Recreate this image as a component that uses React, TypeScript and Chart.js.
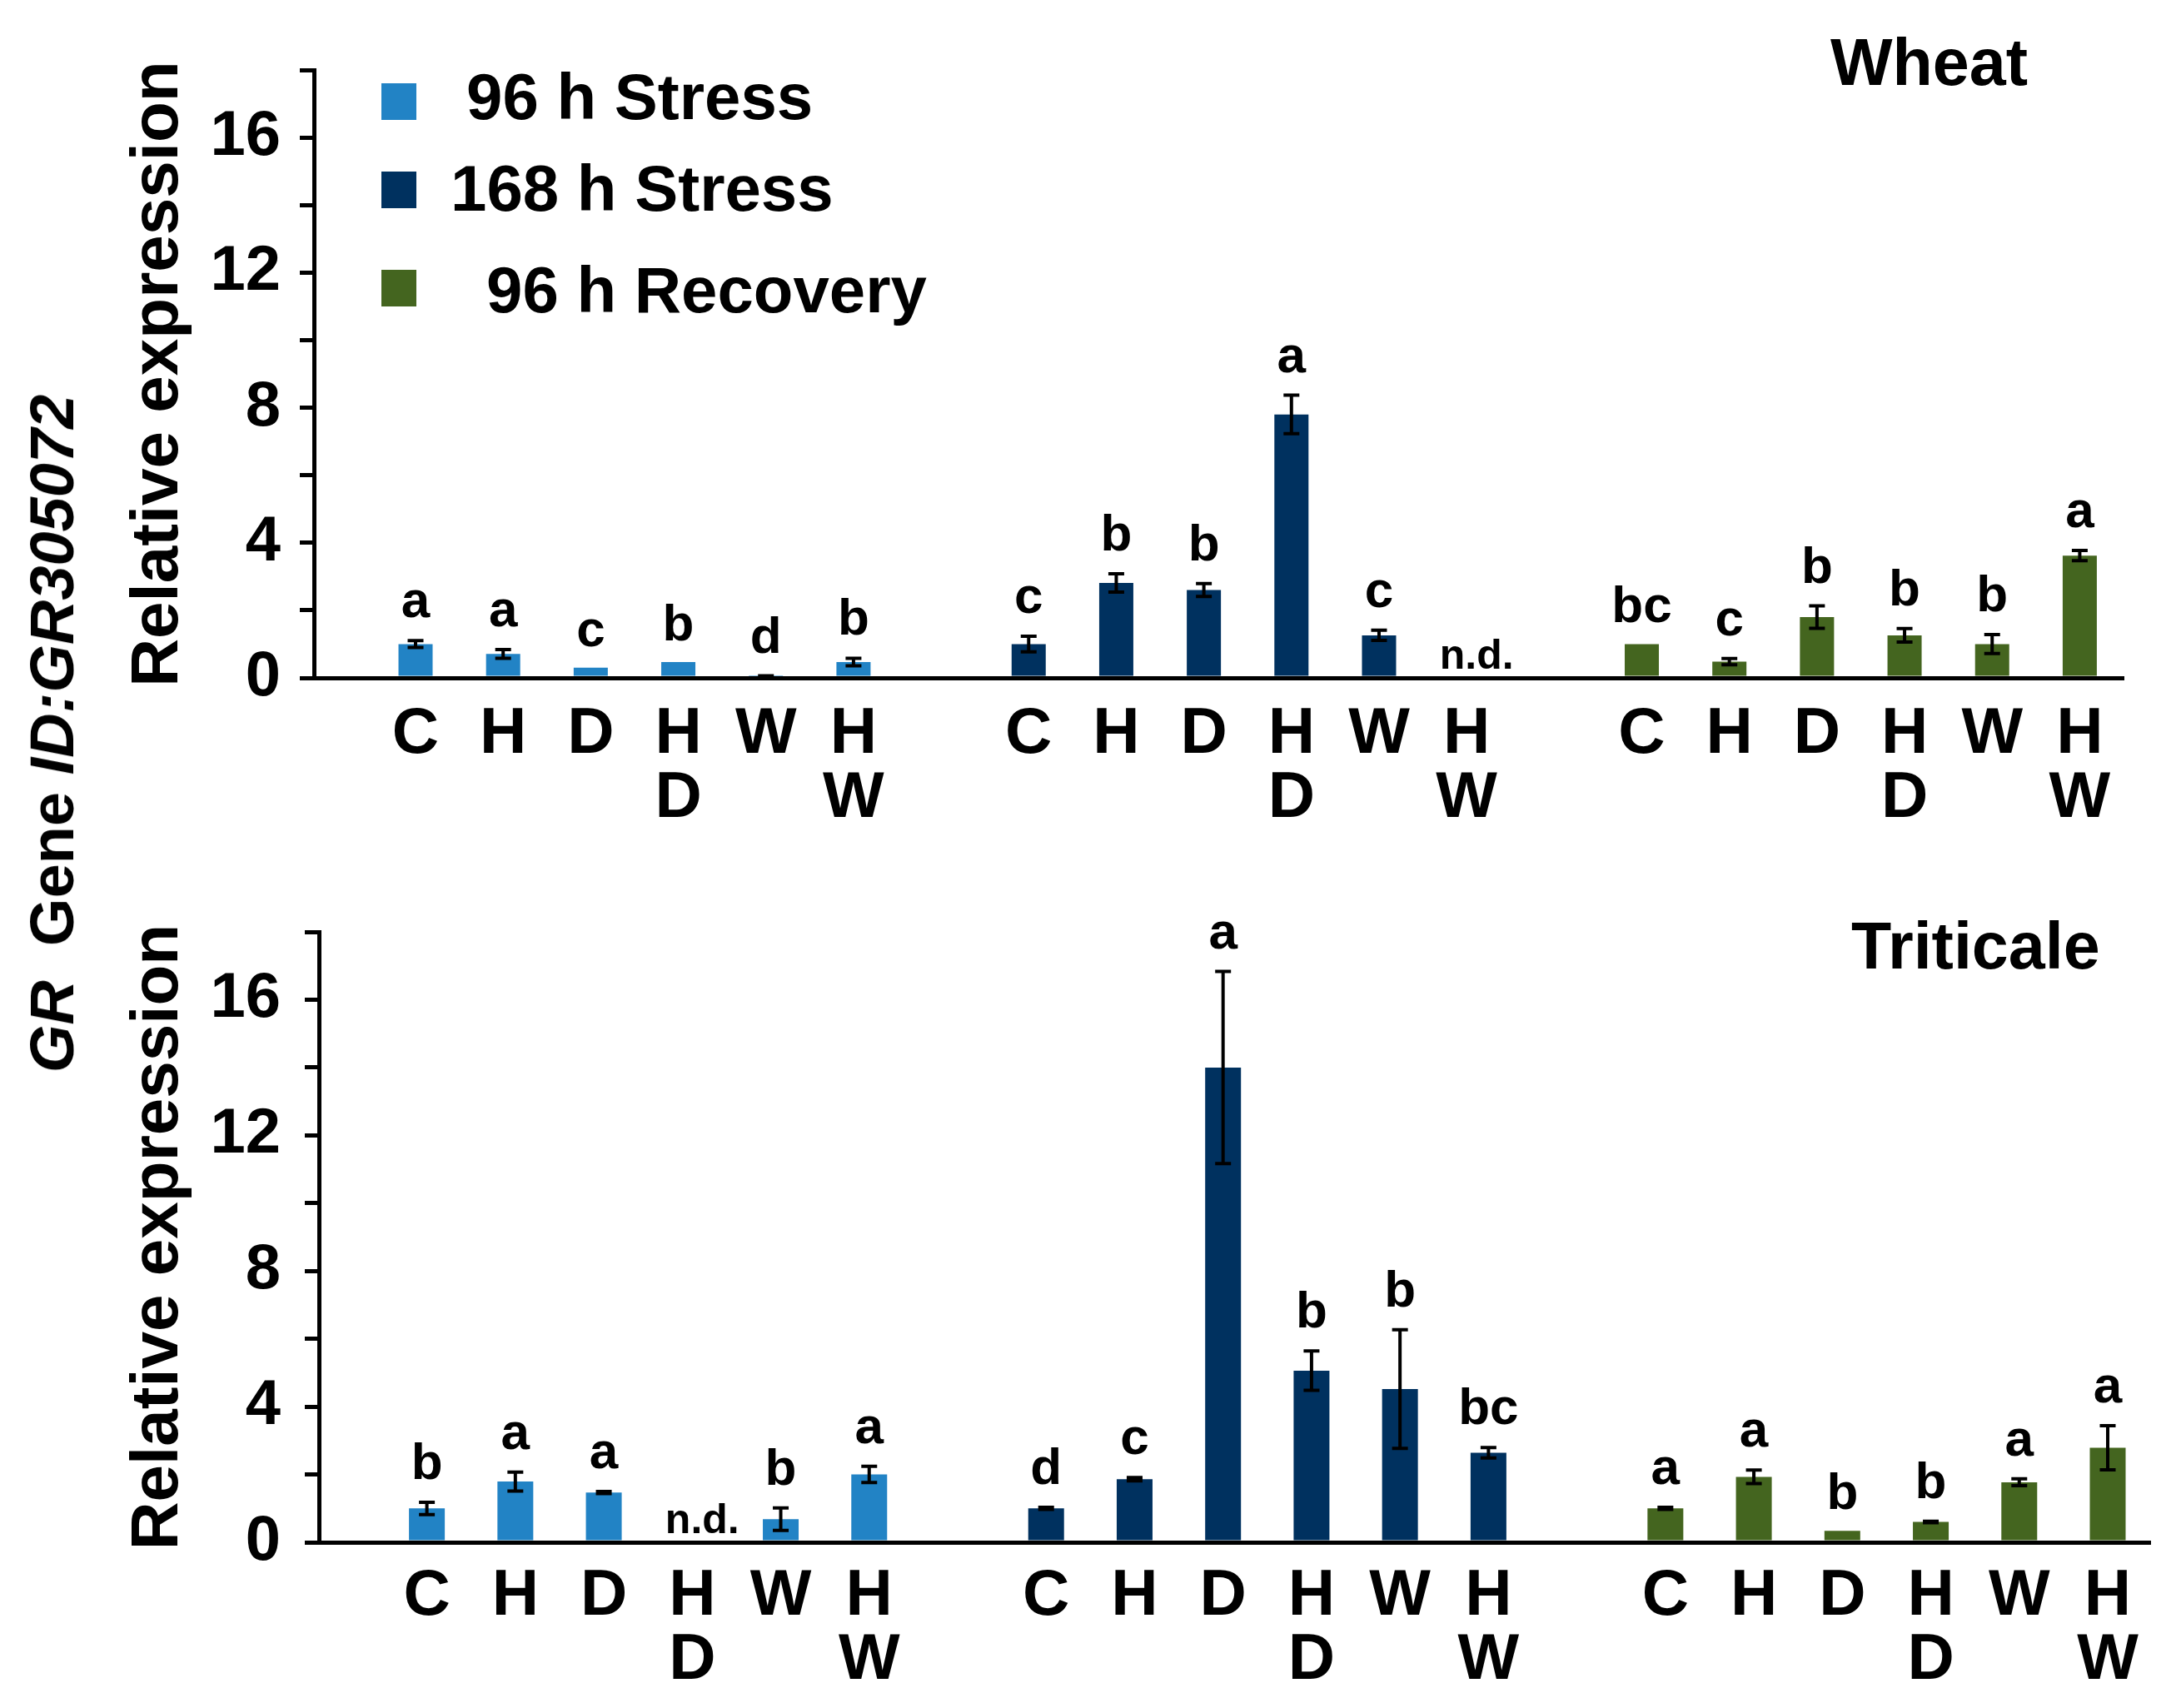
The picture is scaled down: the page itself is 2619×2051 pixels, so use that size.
import React, { useEffect, useRef } from 'react';
import { Chart, registerables } from 'chart.js';

Chart.register(...registerables);

// ---------- data ----------
const CATEGORIES: (string | string[])[] = ['C', 'H', 'D', ['H', 'D'], 'W', ['H', 'W']];
const SERIES = ['96 h Stress', '168 h Stress', '96 h Recovery'];
const COLORS = ['#2283C5', '#00315F', '#44651F'];
const Y_MAX = 18;
const Y_STEP = 2;
const Y_LABEL_EVERY = 4;

// Wheat
const WHEAT_96S = [1.0, 0.71, 0.3, 0.47, 0.05, 0.47];
const WHEAT_96S_ERR = [0.15, 0.18, 0, 0, 0.04, 0.16];
const WHEAT_96S_LET = ['a', 'a', 'c', 'b', 'd', 'b'];
const WHEAT_168S = [1.0, 2.81, 2.6, 7.8, 1.26, null];
const WHEAT_168S_ERR = [0.28, 0.32, 0.24, 0.62, 0.2, 0];
const WHEAT_168S_LET = ['c', 'b', 'b', 'a', 'c', 'n.d.'];
const WHEAT_96R = [1.0, 0.48, 1.8, 1.26, 1.0, 3.62];
const WHEAT_96R_ERR = [0, 0.14, 0.38, 0.25, 0.33, 0.2];
const WHEAT_96R_LET = ['bc', 'c', 'b', 'b', 'b', 'a'];

// Triticale
const TRIT_96S = [1.0, 1.79, 1.47, null, 0.68, 2.0];
const TRIT_96S_ERR = [0.23, 0.33, 0.08, 0, 0.38, 0.29];
const TRIT_96S_LET = ['b', 'a', 'a', 'n.d.', 'b', 'a'];
const TRIT_168S = [1.0, 1.86, 14.0, 5.06, 4.52, 2.64];
const TRIT_168S_ERR = [0.08, 0.1, 2.88, 0.63, 1.8, 0.2];
const TRIT_168S_LET = ['d', 'c', 'a', 'b', 'b', 'bc'];
const TRIT_96R = [1.0, 1.93, 0.34, 0.6, 1.77, 2.79];
const TRIT_96R_ERR = [0.08, 0.25, 0, 0.07, 0.15, 0.7];
const TRIT_96R_LET = ['a', 'a', 'b', 'b', 'a', 'a'];

const Y_TITLE = 'Relative expression';
const FONT = '"Liberation Sans", Arial, Helvetica, sans-serif';

type Group = { values: (number | null)[]; err: number[]; letters: string[] };

const GROUP_SLOT = CATEGORIES.length + 1; // one empty slot between groups
const xPos = (g: number, k: number) => g * GROUP_SLOT + k;

interface PanelCfg {
  name: string;
  groups: Group[];
  canvasH: number;
  padTop: number;
  padRight: number;
  yWidth: number;
  xHeight: number;
  barW: number;
  yTickPad: number;
  xTickPad: number;
  xMin: number;
  xMax: number;
  crop: string;
  cropX: number;
  cropY: number;
  legend: boolean;
}

const makePlugin = (cfg: PanelCfg) => ({
  id: 'annot_' + cfg.name,
  afterDatasetsDraw(chart: any) {
    const ctx: CanvasRenderingContext2D = chart.ctx;
    const xs = chart.scales.x;
    const ys = chart.scales.y;
    ctx.save();
    cfg.groups.forEach((grp, g) => {
      grp.values.forEach((v, k) => {
        const px = xs.getPixelForValue(xPos(g, k));
        ctx.fillStyle = '#000';
        if (v === null) {
          ctx.font = `bold 50px ${FONT}`;
          ctx.textAlign = 'center';
          ctx.textBaseline = 'alphabetic';
          ctx.fillText(grp.letters[k], px + 12, ys.getPixelForValue(0) - 11);
          return;
        }
        const e = grp.err[k];
        if (e > 0) {
          const yt = ys.getPixelForValue(v + e);
          const yb = ys.getPixelForValue(Math.max(0, v - e));
          ctx.strokeStyle = '#000';
          ctx.lineWidth = 4;
          ctx.lineCap = 'butt';
          ctx.beginPath();
          ctx.moveTo(px, yt);
          ctx.lineTo(px, yb);
          ctx.moveTo(px - 9.5, yt + 2);
          ctx.lineTo(px + 9.5, yt + 2);
          ctx.moveTo(px - 9.5, yb - 2);
          ctx.lineTo(px + 9.5, yb - 2);
          ctx.stroke();
        }
        const top = ys.getPixelForValue(v + e);
        ctx.font = `bold 62px ${FONT}`;
        ctx.textAlign = 'center';
        ctx.textBaseline = 'alphabetic';
        ctx.fillText(grp.letters[k], px, top - 26);
      });
    });
    // crop title
    ctx.font = `bold 79px ${FONT}`;
    ctx.textAlign = 'left';
    ctx.textBaseline = 'alphabetic';
    ctx.fillStyle = '#000';
    ctx.fillText(cfg.crop, cfg.cropX, cfg.cropY);
    // legend
    if (cfg.legend) {
      const boxTops = [100, 206, 324];
      const textX = [560, 541, 584];
      const base = [143, 253, 375];
      SERIES.forEach((s, i) => {
        ctx.fillStyle = COLORS[i];
        ctx.fillRect(458, boxTops[i], 42, 44);
        ctx.fillStyle = '#000';
        ctx.font = `bold 78px ${FONT}`;
        ctx.fillText(s, textX[i], base[i]);
      });
    }
    ctx.restore();
  },
});

function buildConfig(cfg: PanelCfg): any {
  const positions: number[] = [];
  const labels: (string | string[])[] = [];
  cfg.groups.forEach((_, g) =>
    CATEGORIES.forEach((c, k) => {
      positions.push(xPos(g, k));
      labels.push(c);
    })
  );
  return {
    type: 'bar',
    data: {
      datasets: cfg.groups.map((grp, g) => ({
        label: SERIES[g],
        data: grp.values.map((v, k) => ({ x: xPos(g, k), y: v })),
        backgroundColor: COLORS[g],
        borderWidth: 0,
        grouped: false,
        maxBarThickness: cfg.barW,
      })),
    },
    options: {
      animation: false,
      responsive: false,
      devicePixelRatio: 1,
      layout: { padding: { left: 0, top: cfg.padTop, right: cfg.padRight, bottom: 0 } },
      plugins: { legend: { display: false }, tooltip: { enabled: false } },
      scales: {
        x: {
          type: 'linear',
          bounds: 'data',
          offset: false,
          min: cfg.xMin,
          max: cfg.xMax,
          z: 1,
          afterBuildTicks: (scale: any) => {
            scale.ticks = positions.map((p) => ({ value: p }));
          },
          afterFit: (scale: any) => {
            scale.height = cfg.xHeight;
          },
          ticks: {
            autoSkip: false,
            maxRotation: 0,
            minRotation: 0,
            padding: cfg.xTickPad,
            color: '#000',
            font: { family: FONT, size: 78, weight: 'bold', lineHeight: '77px' },
            callback: (_v: number, i: number) => labels[i],
          },
          grid: { display: false, offset: false, drawTicks: false, tickLength: 0 },
          border: { display: true, color: '#000', width: 5 },
        },
        y: {
          min: 0,
          max: Y_MAX,
          afterFit: (scale: any) => {
            scale.width = cfg.yWidth;
          },
          ticks: {
            stepSize: Y_STEP,
            autoSkip: false,
            padding: cfg.yTickPad,
            color: '#000',
            font: { family: FONT, size: 76, weight: 'bold' },
            callback: (v: number) => (v % Y_LABEL_EVERY === 0 ? String(v) : ''),
          },
          grid: {
            display: true,
            drawOnChartArea: false,
            drawTicks: true,
            tickLength: 17,
            color: '#000',
            lineWidth: 5,
          },
          border: { display: true, color: '#000', width: 5 },
          title: {
            display: true,
            text: Y_TITLE,
            color: '#000',
            font: { family: FONT, size: 80, weight: 'bold', lineHeight: 1 },
            padding: { top: 151, bottom: 0 },
          },
        },
      },
    },
    plugins: [makePlugin(cfg)],
  };
}

const WHEAT_CFG: PanelCfg = {
  name: 'wheat',
  groups: [
    { values: WHEAT_96S, err: WHEAT_96S_ERR, letters: WHEAT_96S_LET },
    { values: WHEAT_168S, err: WHEAT_168S_ERR, letters: WHEAT_168S_LET },
    { values: WHEAT_96R, err: WHEAT_96R_ERR, letters: WHEAT_96R_LET },
  ],
  canvasH: 1040,
  padTop: 84,
  padRight: 69,
  yWidth: 377,
  xHeight: 226,
  barW: 41,
  yTickPad: 23,
  xTickPad: 30,
  xMin: -1.16,
  xMax: 19.5,
  crop: 'Wheat',
  cropX: 2198,
  cropY: 102,
  legend: true,
};

const TRIT_CFG: PanelCfg = {
  name: 'triticale',
  groups: [
    { values: TRIT_96S, err: TRIT_96S_ERR, letters: TRIT_96S_LET },
    { values: TRIT_168S, err: TRIT_168S_ERR, letters: TRIT_168S_LET },
    { values: TRIT_96R, err: TRIT_96R_ERR, letters: TRIT_96R_LET },
  ],
  canvasH: 1011,
  padTop: 79,
  padRight: 37,
  yWidth: 383,
  xHeight: 199,
  barW: 43,
  yTickPad: 29,
  xTickPad: 27,
  xMin: -1.22,
  xMax: 19.48,
  crop: 'Triticale',
  cropX: 2223,
  cropY: 123,
  legend: false,
};

function Panel({ cfg, top }: { cfg: PanelCfg; top: number }) {
  const ref = useRef<HTMLCanvasElement | null>(null);
  useEffect(() => {
    if (!ref.current) return;
    const chart = new Chart(ref.current, buildConfig(cfg));
    return () => chart.destroy();
  }, [cfg]);
  return (
    <canvas
      ref={ref}
      width={2619}
      height={cfg.canvasH}
      style={{ position: 'absolute', left: 0, top, width: 2619, height: cfg.canvasH, display: 'block' }}
    />
  );
}

export default function App() {
  return (
    <div
      style={{
        position: 'absolute',
        left: 0,
        top: 0,
        width: 2619,
        height: 2051,
        background: '#fff',
        overflow: 'hidden',
      }}
    >
      <Panel cfg={WHEAT_CFG} top={0} />
      <Panel cfg={TRIT_CFG} top={1040} />
      <div
        style={{
          position: 'absolute',
          left: 63,
          top: 881,
          transform: 'translate(-50%, -50%) rotate(-90deg)',
          font: `bold 74px ${FONT}`,
          lineHeight: '74px',
          whiteSpace: 'pre',
          color: '#000',
        }}
      >
        <i>GR</i>
        {'  Gene '}
        <i>ID:GR305072</i>
      </div>
    </div>
  );
}
